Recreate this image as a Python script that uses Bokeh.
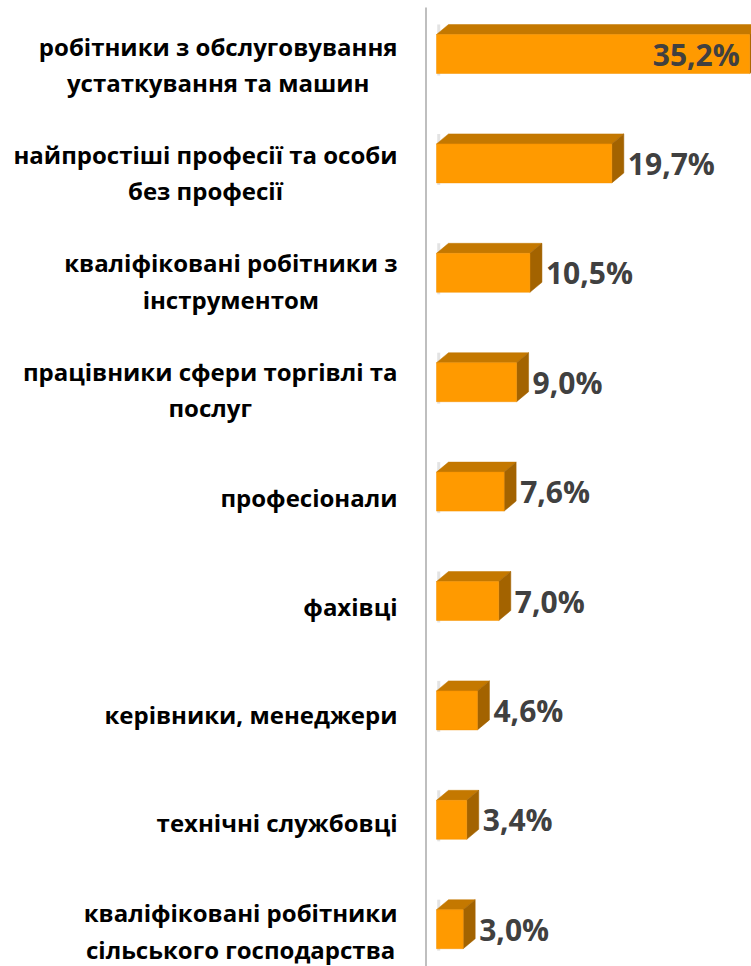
from bokeh.plotting import figure
from bokeh.models import Range1d
from bokeh.core.properties import value
from bokeh.embed import file_html
from bokeh.resources import INLINE

# ---- data ----
categories = [
    "робітники з обслуговування\nустаткування та машин",
    "найпростіші професії та особи\nбез професії",
    "кваліфіковані робітники з\nінструментом",
    "працівники сфери торгівлі та\nпослуг",
    "професіонали",
    "фахівці",
    "керівники, менеджери",
    "технічні службовці",
    "кваліфіковані робітники\nсільського господарства",
]
shares = [35.2, 19.7, 10.5, 9.0, 7.6, 7.0, 4.6, 3.4, 3.0]
share_labels = ["35,2%", "19,7%", "10,5%", "9,0%", "7,6%", "7,0%", "4,6%", "3,4%", "3,0%"]

# ---- layout (pixels) ----
W, H = 751, 966
PX_X = 8.9           # pixels per percent
ZERO_SX = 436        # screen x of zero (front face of bars)
ROW0_SY = 53.5       # screen y of first bar centre
ROW_STEP = 109.4     # pixels between bars

x0 = -ZERO_SX / PX_X
x1 = x0 + W / PX_X
y_top = -ROW0_SY / ROW_STEP
y_bot = (H - ROW0_SY) / ROW_STEP

p = figure(width=W, height=H, output_backend="svg", toolbar_location=None,
           x_range=Range1d(x0, x1), y_range=Range1d(y_bot, y_top),
           x_axis_type=None, y_axis_type=None, min_border=0)
p.outline_line_color = None
p.xgrid.visible = False
p.ygrid.visible = False
p.background_fill_color = "white"
p.border_fill_color = "white"

half = 19.5 / ROW_STEP
dx = 12 / PX_X
dy = 10 / ROW_STEP

n = len(shares)
rows = list(range(n))

top_xs, top_ys, side_xs, side_ys = [], [], [], []
for r, v in zip(rows, shares):
    top_xs.append([0, v, v + dx, dx])
    top_ys.append([r - half, r - half, r - half - dy, r - half - dy])
    side_xs.append([v, v + dx, v + dx, v])
    side_ys.append([r - half, r - half - dy, r + half - dy, r + half])

# faint shadow at the left edge of each bar
p.segment(x0=[0.25] * n, y0=[r - half - dy for r in rows], x1=[0.25] * n,
          y1=[r + half + 2 / ROW_STEP for r in rows], line_color="#D0D0D0", line_width=3, line_alpha=0.6)

p.patches(top_xs, top_ys, fill_color="#C47800", line_color="#C47800", line_width=0.5)
p.patches(side_xs, side_ys, fill_color="#A36300", line_color="#A36300", line_width=0.5)
p.quad(left=[0] * n, right=shares, top=[r - half for r in rows], bottom=[r + half for r in rows],
       fill_color="#FF9A00", line_color="#F59300", line_width=0.5)

# vertical axis line
p.segment(x0=[-10.5 / PX_X], y0=[(7 - ROW0_SY) / ROW_STEP], x1=[-10.5 / PX_X], y1=[y_bot],
          line_color="#BFBFBF", line_width=2)

# category labels
lab_y = [r + (10.5 - 1.1 * r) / ROW_STEP for r in rows]
p.text(x=[-39 / PX_X] * n, y=lab_y, text=categories,
       anchor="center_right", text_align="center",
       text_font=value("Open Sans"), text_font_style="bold", text_font_size="24px",
       text_color="black", text_line_height=1.1)

# value labels
inside = [v + 9 > x1 for v in shares]
out_x = [v for v, ins in zip(shares, inside) if not ins]
out_y = [r for r, ins in zip(rows, inside) if not ins]
out_t = [t for t, ins in zip(share_labels, inside) if not ins]
in_x = [v for v, ins in zip(shares, inside) if ins]
in_y = [r for r, ins in zip(rows, inside) if ins]
in_t = [t for t, ins in zip(share_labels, inside) if ins]

p.text(x=out_x, y=out_y, text=out_t, x_offset=16, text_align="left", text_baseline="middle",
       text_font=value("Open Sans"), text_font_style="bold", text_font_size="30px",
       text_color="#404040")
p.text(x=in_x, y=in_y, text=in_t, x_offset=-10, text_align="right", text_baseline="middle",
       text_font=value("Open Sans"), text_font_style="bold", text_font_size="30px",
       text_color="#404040")

open("out.html", "w").write(file_html(p, INLINE))
